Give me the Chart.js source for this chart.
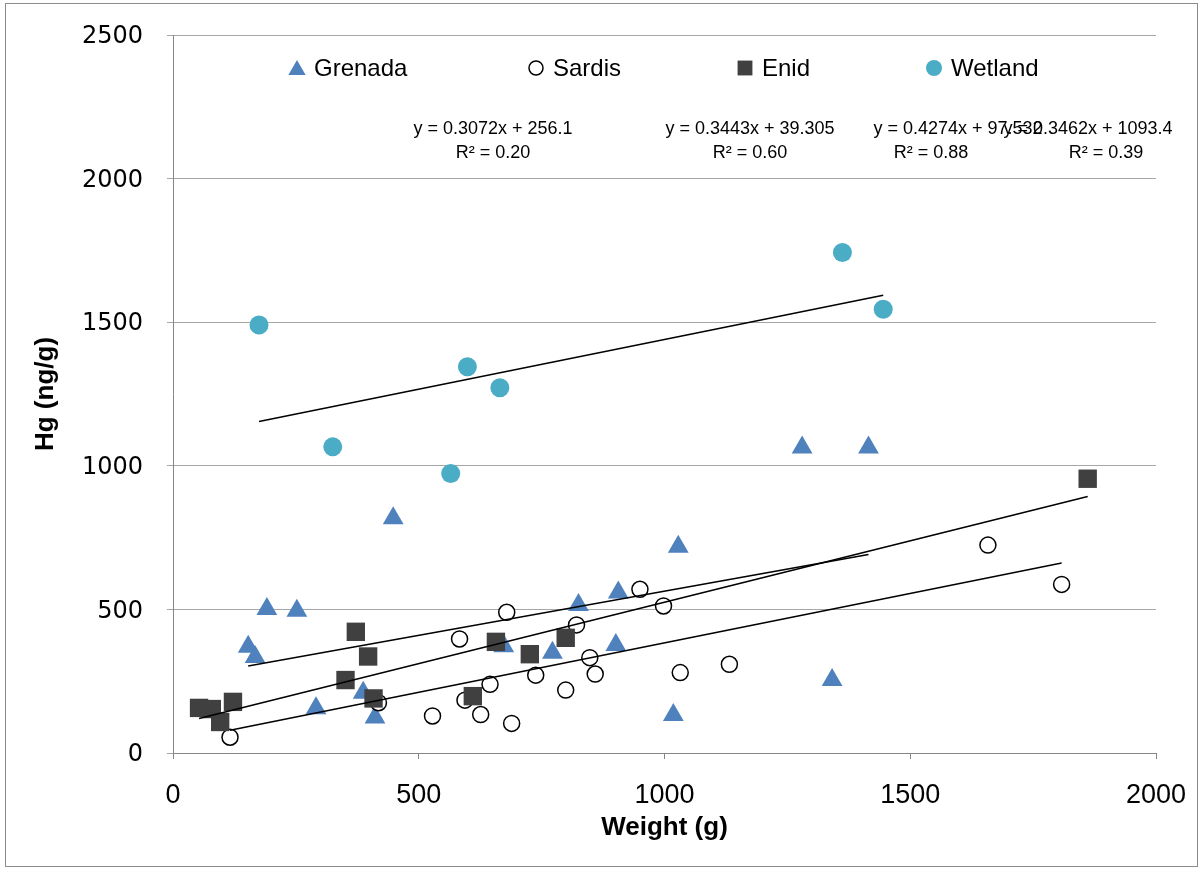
<!DOCTYPE html>
<html>
<head>
<meta charset="utf-8">
<script src="https://cdn.jsdelivr.net/npm/chart.js@4.4.1/dist/chart.umd.min.js"></script>
<style>
  html, body { margin: 0; padding: 0; background: #ffffff; }
  #wrap { position: relative; width: 1202px; height: 869px; }
  #c { position: absolute; left: 0; top: 0; }
  #frame { position: absolute; left: 5px; top: 3px; width: 1193px; height: 864px;
           border: 1px solid #8c8c8c; box-sizing: border-box; pointer-events: none; }
</style>
</head>
<body>
<div id="wrap">
  <canvas id="c" width="1202" height="869"></canvas>
  <div id="frame"></div>
</div>
<script>
// Fish weight (g) vs. mercury concentration (ng/g) for four lakes
const seriesNames = ['Grenada', 'Sardis', 'Enid', 'Wetland'];

const grenadaWeight = [153, 167, 191, 252, 291, 387, 411, 448, 673, 772, 825, 901, 906, 1018, 1028, 1280, 1341, 1415];
const grenadaHg     = [370, 334, 501, 495, 156, 210, 124, 817, 372, 349, 515, 376, 559, 132, 718, 1064, 254, 1064];

const sardisWeight = [116, 418, 528, 583, 594, 626, 645, 679, 689, 738, 799, 821, 848, 859, 950, 998, 1032, 1132, 1658, 1808];
const sardisHg     = [55, 175, 129, 397, 184, 134, 239, 490, 103, 271, 219, 446, 332, 275, 570, 512, 280, 309, 724, 587];

const enidWeight = [53, 79, 96, 122, 351, 372, 397, 408, 610, 657, 726, 799, 1861];
const enidHg     = [157, 153, 108, 178, 254, 422, 336, 190, 198, 387, 344, 401, 955];

const wetlandWeight = [175, 325, 565, 599, 665, 1362, 1445];
const wetlandHg     = [1490, 1066, 973, 1345, 1272, 1743, 1545];

// Linear trendlines: y = slope * x + intercept
const trendSlope     = [0.3072, 0.3443, 0.4274, 0.3462];
const trendIntercept = [256.1, 39.305, 97.532, 1093.4];
const trendR2        = [0.20, 0.60, 0.88, 0.39];

const xTickValues = [0, 500, 1000, 1500, 2000];
const yTickValues = [0, 500, 1000, 1500, 2000, 2500];

// ---- styling ----
const styles = [
  { pointStyle: 'triangle', radius: 12, fill: '#4F81BD', stroke: '#4F81BD', bw: 0 },
  { pointStyle: 'circle',   radius: 8,  fill: '#ffffff', stroke: '#000000', bw: 1.5 },
  { pointStyle: 'rect',     radius: 13, fill: '#404040', stroke: '#404040', bw: 0 },
  { pointStyle: 'circle',   radius: 9.5, fill: '#4BACC6', stroke: '#4BACC6', bw: 0 }
];
// later series are painted above earlier ones
const markerOrder = [4, 3, 2, 1];

const weights = [grenadaWeight, sardisWeight, enidWeight, wetlandWeight];
const values  = [grenadaHg, sardisHg, enidHg, wetlandHg];

const datasets = [];
seriesNames.forEach((name, s) => {
  const st = styles[s];
  datasets.push({
    type: 'scatter',
    label: name,
    data: weights[s].map((w, i) => ({ x: w, y: values[s][i] })),
    pointStyle: st.pointStyle,
    pointRadius: st.radius,
    pointHoverRadius: st.radius,
    backgroundColor: st.fill,
    borderColor: st.stroke,
    borderWidth: st.bw,
    order: markerOrder[s],
    clip: false
  });
});
seriesNames.forEach((name, s) => {
  const xs = weights[s];
  const x0 = Math.min(...xs), x1 = Math.max(...xs);
  datasets.push({
    type: 'line',
    label: name + ' trend',
    data: [x0, x1].map(x => ({ x: x, y: trendSlope[s] * x + trendIntercept[s] })),
    borderColor: '#000000',
    borderWidth: 1.5,
    pointRadius: 0,
    fill: false,
    tension: 0,
    order: 0
  });
});

// legend and trendline equation placement (canvas px)
const legendLayout = { x: [297, 536, 745, 934], y: 68, textGap: 17, font: '24px "Liberation Sans"' };
const eqLayout = { eqX: [493, 750, 958, 1088], r2X: [493, 750, 931, 1106], eqY: 129, r2Y: 153,
                   font: '18px "Liberation Sans"' };

function drawMarker(ctx, st, x, y, r) {
  ctx.save();
  ctx.fillStyle = st.fill;
  ctx.strokeStyle = st.stroke;
  ctx.lineWidth = st.bw;
  ctx.beginPath();
  if (st.pointStyle === 'triangle') {
    for (let k = 0; k < 3; k++) {
      const a = k * 2 * Math.PI / 3;
      const px = x + Math.sin(a) * r, py = y - Math.cos(a) * r;
      k === 0 ? ctx.moveTo(px, py) : ctx.lineTo(px, py);
    }
    ctx.closePath();
  } else if (st.pointStyle === 'rect') {
    const h = r * Math.SQRT1_2;
    ctx.rect(x - h, y - h, 2 * h, 2 * h);
  } else {
    ctx.arc(x, y, r, 0, Math.PI * 2);
  }
  ctx.fill();
  if (st.bw > 0) ctx.stroke();
  ctx.restore();
}

const annotations = {
  id: 'annotations',
  afterDatasetsDraw(chart) {
    const ctx = chart.ctx;
    ctx.save();
    // legend
    ctx.font = legendLayout.font;
    ctx.fillStyle = '#000000';
    ctx.textBaseline = 'middle';
    ctx.textAlign = 'left';
    const legendR = [10, 7, 10.5, 8];
    seriesNames.forEach((name, s) => {
      const x = legendLayout.x[s];
      const yy = legendLayout.y + (styles[s].pointStyle === 'triangle' ? 2 : 0);
      drawMarker(ctx, styles[s], x, yy, legendR[s]);
      ctx.fillText(name, x + legendLayout.textGap, legendLayout.y + 1);
    });
    // trendline equations
    ctx.font = eqLayout.font;
    ctx.textAlign = 'center';
    seriesNames.forEach((name, s) => {
      const eq = 'y = ' + trendSlope[s] + 'x + ' + trendIntercept[s];
      const r2 = 'R\u00B2 = ' + trendR2[s].toFixed(2);
      ctx.fillText(eq, eqLayout.eqX[s], eqLayout.eqY);
      ctx.fillText(r2, eqLayout.r2X[s], eqLayout.r2Y);
    });
    ctx.restore();
  }
};

// keep the plot box fixed: tick-label overhang is handled by the layout padding
function fixScaleBox(scale, size) {
  if (scale.isHorizontal()) scale.height = size; else scale.width = size;
  scale.paddingTop = 0;
  scale.paddingBottom = 0;
  scale.paddingLeft = 0;
  scale.paddingRight = 0;
}

Chart.defaults.font.family = '"Liberation Sans", Arial, sans-serif';
Chart.defaults.color = '#000000';

new Chart(document.getElementById('c'), {
  type: 'scatter',
  data: { datasets: datasets },
  options: {
    responsive: false,
    animation: false,
    devicePixelRatio: 1,
    layout: { padding: { top: 35, right: 46, left: 0, bottom: 0 } },
    plugins: { legend: { display: false }, tooltip: { enabled: false } },
    scales: {
      x: {
        type: 'linear',
        min: 0, max: 2000,
        afterBuildTicks(scale) { scale.ticks = xTickValues.map(v => ({ value: v })); },
        afterFit(scale) { fixScaleBox(scale, 116); },
        ticks: {
          padding: 20,
          font: { family: '"Liberation Sans"', size: 27 },
          color: '#000000',
          maxRotation: 0,
          callback: v => String(v)
        },
        grid: { drawOnChartArea: false, drawTicks: true, tickLength: 6, color: '#868686' },
        border: { display: true, color: '#868686', width: 1 },
        title: {
          display: true, text: 'Weight (g)', color: '#000000',
          font: { family: '"Liberation Sans"', size: 26, weight: 'bold' },
          padding: { top: 0, bottom: 26 }
        }
      },
      y: {
        type: 'linear',
        min: 0, max: 2500,
        afterBuildTicks(scale) { scale.ticks = yTickValues.map(v => ({ value: v })); },
        afterFit(scale) { fixScaleBox(scale, 173); },
        ticks: {
          padding: 24,
          labelOffset: 2,
          font: { family: '"DejaVu Sans"', size: 24 },
          color: '#000000',
          callback: v => String(v)
        },
        grid: { drawTicks: true, tickLength: 6, color: '#a6a6a6', lineWidth: 1 },
        border: { display: true, color: '#868686', width: 1 },
        title: {
          display: true, text: 'Hg (ng/g)', color: '#000000',
          font: { family: '"Liberation Sans"', size: 26, weight: 'bold' },
          padding: { top: 30, bottom: 0 }
        }
      }
    }
  },
  plugins: [annotations]
});
</script>
</body>
</html>
